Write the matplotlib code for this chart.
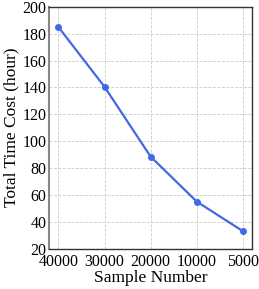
import numpy as np
import matplotlib.pyplot as plt

plt.rcParams['font.family'] = ['Liberation Serif', 'DejaVu Serif']

sample_labels = ['40000', '30000', '20000', '10000', '5000']
time_cost = [185, 140.5, 88.5, 55, 33]

fig, ax = plt.subplots(figsize=(2.59, 2.89), dpi=100)
x = np.arange(len(sample_labels))
ax.plot(x, time_cost, color='#4169E1', marker='o', markersize=4, linewidth=1.6)
ax.set_xticks(x)
ax.set_xticklabels(sample_labels)
ax.set_ylim(20, 200)
ax.set_yticks(range(20, 201, 20))
ax.grid(True, linestyle='--', color='#cccccc', linewidth=0.6)
ax.tick_params(length=0, labelsize=11.5, pad=2)
ax.tick_params(axis='x', pad=4)
ax.set_xlabel('Sample Number', fontsize=12.5, labelpad=0)
ax.set_ylabel('Total Time Cost (hour)', fontsize=12.5, labelpad=2)
for s in ax.spines.values():
    s.set_color('#333333')
    s.set_linewidth(1.0)
ax.spines['left'].set_color('#888888')
ax.spines['left'].set_linewidth(1.5)
fig.subplots_adjust(left=0.19, right=0.973, top=0.976, bottom=0.14)
fig.savefig('out.png')
